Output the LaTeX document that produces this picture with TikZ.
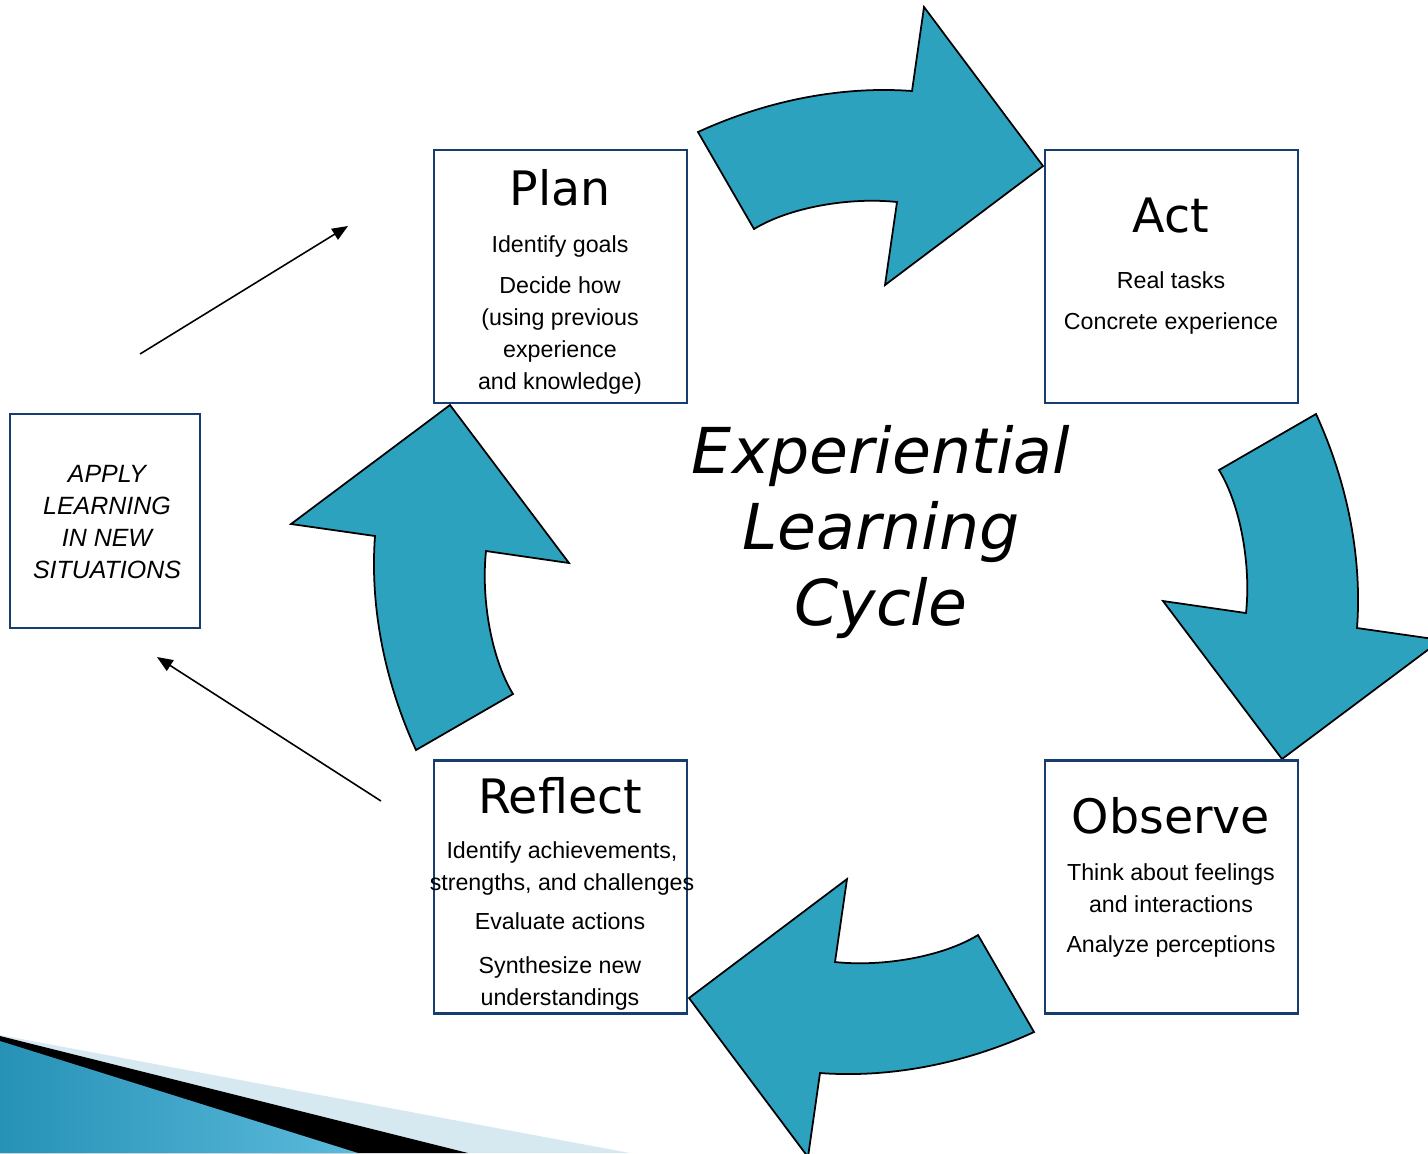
\documentclass[tikz,border=0pt]{standalone}
\usepackage{fontspec}
\setmainfont{Liberation Sans}
\newfontfamily\headfont{DejaVu Sans}
\usetikzlibrary{arrows.meta}
\definecolor{cycleblue}{RGB}{45,162,191}
\definecolor{boxblue}{RGB}{23,60,110}
\definecolor{paleblue}{RGB}{214,233,240}
\definecolor{banddark}{RGB}{38,146,182}
\definecolor{bandlight}{RGB}{92,186,220}
\tikzset{
  stagebox/.style={draw=boxblue, line width=0.7pt, minimum width=2.53cm, minimum height=2.53cm},
  headtxt/.style={font=\headfont\fontsize{13.5}{16}\selectfont},
  bodytxt/.style={align=center, font=\fontsize{6.6}{9.1}\selectfont},
  bigarrow/.style={fill=cycleblue, draw=black, line width=0.5pt},
  pointer/.style={line width=0.45pt, -{Triangle[length=4.5pt,width=3.6pt]}}
}
\begin{document}
\begin{tikzpicture}[x=0.01cm,y=-0.01cm]
      \useasboundingbox (0,0) rectangle (1428,1153);
      \clip (0,0) rectangle (1428,1153);
      \fill[paleblue] (0,1035) -- (630,1153) -- (0,1153) -- cycle;
      \fill[black] (0,1036) -- (468,1153) -- (0,1153) -- cycle;
      \shade[left color=banddark, right color=bandlight] (0,1041) -- (358,1153) -- (0,1153) -- cycle;
      \foreach \ang in {0,-90,-180,-270}
        \draw[bigarrow, shift={(866,582)}, rotate=\ang] (-168,-450) .. controls (-96,-483) and (-21,-496) .. (46,-491) -- (58,-575) -- (177,-416) -- (19,-297) -- (31,-380) .. controls (-16,-385) and (-76,-375) .. (-112,-353) -- cycle;
      \node[stagebox] (plan) at (560.5,276.5) {};
      \node[stagebox] (act) at (1171.5,276.5) {};
      \node[stagebox] (observe) at (1171.5,887) {};
      \node[stagebox] (reflect) at (560.5,887) {};
      \node[draw=boxblue, line width=0.7pt, minimum width=1.9cm, minimum height=2.14cm] (apply) at (105,521) {};
      \node[headtxt] (planhead) at (560,188) {Plan};
      \node[bodytxt] (plangoals) at (560,246) {Identify goals};
      \node[bodytxt] (planhow) at (560,335) {Decide how\\(using previous\\experience\\and knowledge)};
      \node[headtxt] (acthead) at (1171,216) {Act};
      \node[bodytxt] (acttasks) at (1171,280) {Real tasks};
      \node[bodytxt] (actexp) at (1171,323) {Concrete experience};
      \node[headtxt] (obshead) at (1171,816) {Observe};
      \node[bodytxt] (obsthink) at (1171,888) {Think about feelings\\and interactions};
      \node[bodytxt] (obsanalyze) at (1171,946) {Analyze perceptions};
      \node[headtxt] (refhead) at (560,796) {Reflect};
      \node[bodytxt] (refident) at (562,868) {Identify achievements,\\strengths, and challenges};
      \node[bodytxt] (refeval) at (560,921) {Evaluate actions};
      \node[bodytxt] (refsynth) at (560,983) {Synthesize new\\understandings};
      \node[align=center, font=\itshape\fontsize{7.1}{9.1}\selectfont] (applytxt) at (107,522) {APPLY\\LEARNING\\IN NEW\\SITUATIONS};
      \node[align=center, font=\headfont\itshape\fontsize{18}{21.6}\selectfont] (title) at (881,532) {Experiential\\Learning\\Cycle};
      \coordinate (upfrom) at (140,354);
      \coordinate (upto) at (348,226);
      \coordinate (downfrom) at (381,801);
      \coordinate (downto) at (157,657);
      \draw[pointer] (upfrom) -- (upto);
      \draw[pointer] (downfrom) -- (downto);
    \end{tikzpicture}
\end{document}
